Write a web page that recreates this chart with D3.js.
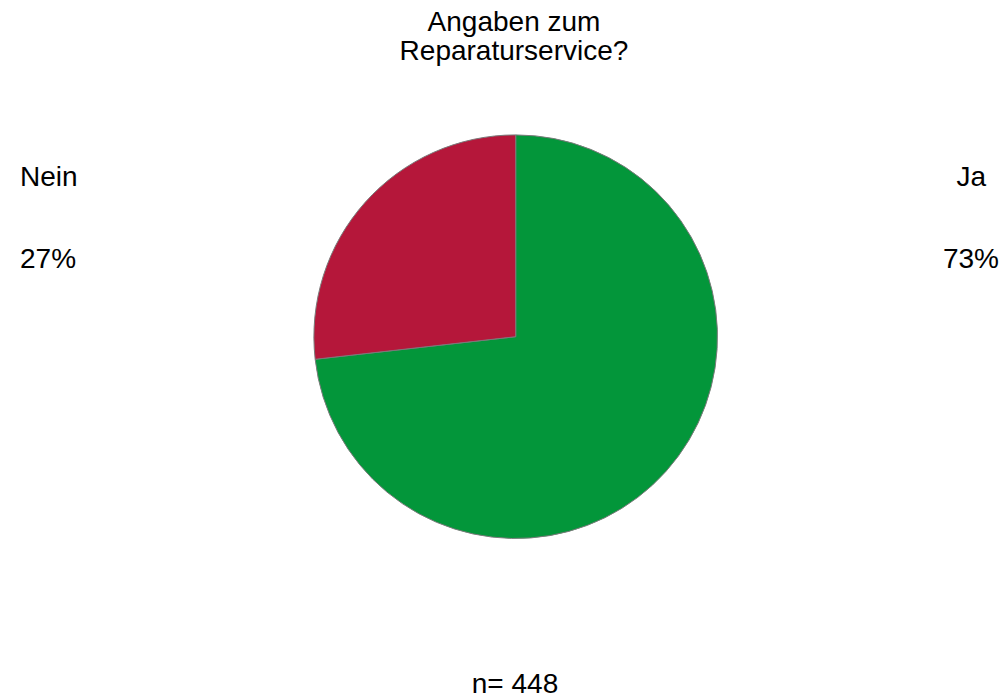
<!DOCTYPE html>
<html>
<head>
<meta charset="utf-8">
<script src="https://cdn.jsdelivr.net/npm/d3@7"></script>
<style>
html,body{margin:0;padding:0;background:#fff;}
text{font-family:"Liberation Sans",Arial,sans-serif;fill:#000;}
</style>
</head>
<body>
<svg id="chart" width="1008" height="698"></svg>
<script>
const categories = ["Ja", "Nein"];
const values = [328, 120];
const percentLabels = ["73%", "27%"];
const colors = ["#03963a", "#b5173a"];
const titleLines = ["Angaben zum", "Reparaturservice?"];
const footnote = "n= 448";

const svg = d3.select("#chart");
const cx = 515.7, cy = 336.7, r = 201.8;
const fs = 28;

const pie = d3.pie().sort(null).value(d => d)(values);
const arc = d3.arc().innerRadius(0).outerRadius(r);

svg.append("g").attr("transform", `translate(${cx},${cy})`)
  .selectAll("path").data(pie).join("path")
  .attr("d", arc)
  .attr("fill", (d, i) => colors[i])
  .attr("stroke", "#7a7a7a")
  .attr("stroke-width", 1);

svg.selectAll(".title").data(titleLines).join("text")
  .attr("x", 514).attr("y", (d, i) => 31 + i * 28.5)
  .attr("text-anchor", "middle").attr("font-size", fs).text(d => d);

const labelPos = [
  {x: 986, px: 999, anchor: "end"},
  {x: 20, px: 20, anchor: "start"}
];
categories.forEach((c, i) => {
  svg.append("text").attr("x", labelPos[i].x).attr("y", 186)
    .attr("text-anchor", labelPos[i].anchor).attr("font-size", fs).text(c);
  svg.append("text").attr("x", labelPos[i].px).attr("y", 268)
    .attr("text-anchor", labelPos[i].anchor).attr("font-size", fs).text(percentLabels[i]);
});

svg.append("text").attr("x", 515).attr("y", 692.5)
  .attr("text-anchor", "middle").attr("font-size", fs).text(footnote);
</script>
</body>
</html>
